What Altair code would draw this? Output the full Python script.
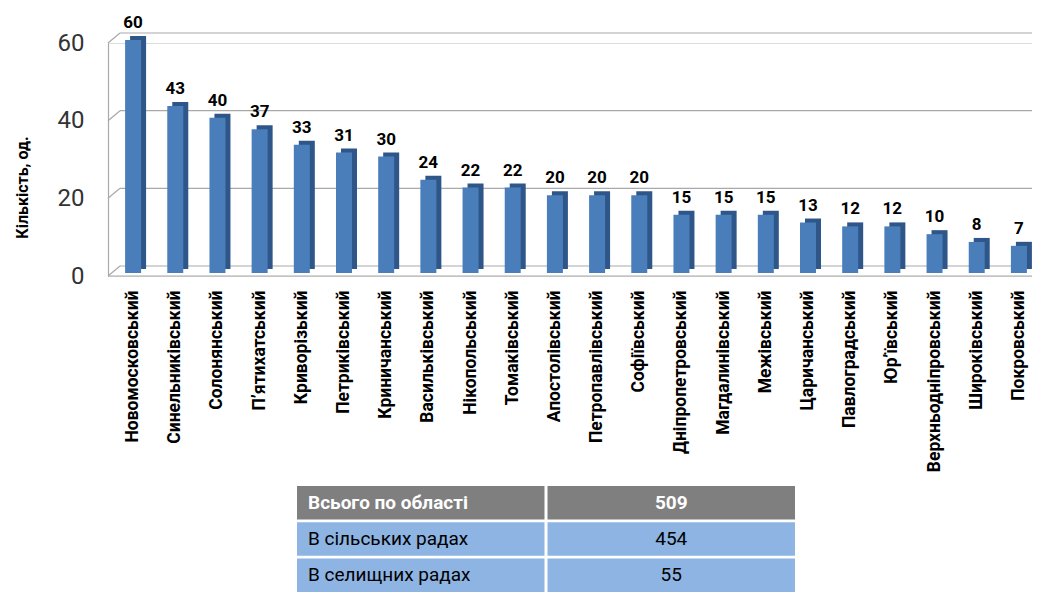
import altair as alt
import pandas as pd

districts = ["Новомосковський", "Синельниківський", "Солонянський", "П’ятихатський",
             "Криворізький", "Петриківський", "Криничанський", "Васильківський",
             "Нікопольський", "Томаківський", "Апостолівський", "Петропавлівський",
             "Софіївський", "Дніпропетровський", "Магдалинівський", "Межівський",
             "Царичанський", "Павлоградський", "Юр’ївський", "Верхньодніпровський",
             "Широківський", "Покровський"]
counts = [60, 43, 40, 37, 33, 31, 30, 24, 22, 22, 20, 20, 20, 15, 15, 15, 13, 12, 12, 10, 8, 7]
y_ticks = [0, 20, 40, 60]

table_labels = ["Всього по області", "В сільських радах", "В селищних радах"]
table_values = ["509", "454", "55"]

W, H = 924, 233
GRID = "#a9a9a9"
FONT = "Roboto"

df = pd.DataFrame({"district": districts, "count": counts})
grid_df = pd.DataFrame({"count": y_ticks})
floor_df = pd.DataFrame({"count": [0]})

X = alt.X("district:N", sort=districts,
          scale=alt.Scale(range=[4, 932], paddingInner=0, paddingOuter=0),
          axis=alt.Axis(title=None, labelAngle=-90, ticks=False, domain=False,
                        labelPadding=14, labelFont=FONT, labelFontSize=17.5,
                        labelFontWeight="bold", labelColor="black", labelLimit=300))


def Y():
    return alt.Y("count:Q", scale=alt.Scale(domain=[0, 60], nice=False, zero=True),
                 axis=alt.Axis(values=y_ticks, title="Кількість, од.", grid=False, ticks=False,
                               domainColor=GRID, domainWidth=1.2,
                               labelFont=FONT, labelFontSize=24, labelColor="#333333",
                               labelPadding=24,
                               titleFont=FONT, titleFontSize=16, titleFontWeight="bold",
                               titleColor="black", titleX=-86, titleY=144,
                               titleAngle=270, titleAlign="center", titleBaseline="middle"))


back_lines = alt.Chart(grid_df).mark_rule(color=GRID, strokeWidth=1.2, yOffset=-10).encode(
    x=alt.value(12), x2=alt.value(W), y=Y())
diagonals = alt.Chart(grid_df).mark_rule(color=GRID, strokeWidth=1.2, y2Offset=-10).encode(
    x=alt.value(0), x2=alt.value(12), y=Y(), y2="count:Q")
front_floor = alt.Chart(floor_df).mark_rule(color=GRID, strokeWidth=1.2).encode(
    x=alt.value(0), x2=alt.value(W), y=Y())

base = alt.Chart(df).encode(x=X, y=Y())
side = base.mark_bar(size=16, color="#2f5689", xOffset=5, yOffset=-7, y2Offset=-7)
front = base.mark_bar(size=16, color="#4a7ebb", yOffset=-3, y2Offset=-3)
labels = base.mark_text(fontSize=17, fontWeight="bold", font=FONT, color="black",
                        baseline="alphabetic", dy=-12, yOffset=-3).encode(text="count:Q")

main = alt.layer(back_lines, diagonals, front_floor, side, front, labels)

# ---- summary table ----
rows_df = pd.DataFrame({"row": table_labels * 2,
                        "col": ["a"] * 3 + ["b"] * 3})
label_df = pd.DataFrame({"row": table_labels, "col": ["a"] * 3, "txt": table_labels})
value_df = pd.DataFrame({"row": table_labels, "col": ["b"] * 3, "txt": table_values})

TX = alt.X("col:N", scale=alt.Scale(domain=["a", "b"], range=[189, 687],
                                    paddingInner=0.012, paddingOuter=0), axis=None)
TXl = alt.X("col:N", scale=alt.Scale(domain=["a", "b"], range=[189, 687],
                                     paddingInner=0.012, paddingOuter=0),
            axis=None, bandPosition=0)
TY = alt.Y("row:N", scale=alt.Scale(domain=table_labels, range=[443, 549],
                                    paddingInner=0.08, paddingOuter=0), axis=None)

cells = alt.Chart(rows_df).mark_rect().encode(
    x=TX, y=TY,
    color=alt.Color("row:N", scale=alt.Scale(domain=table_labels,
                                             range=["#7f7f7f", "#8db4e2", "#8db4e2"]),
                    legend=None))

hdr = alt.datum.row == table_labels[0]
lab_head = alt.Chart(label_df).transform_filter(hdr).mark_text(
    align="left", dx=11, fontSize=19, fontWeight="bold", font=FONT, color="white").encode(
    x=TXl, y=TY, text="txt:N")
lab_body = alt.Chart(label_df).transform_filter(~hdr).mark_text(
    align="left", dx=11, fontSize=19, font=FONT, color="black").encode(
    x=TXl, y=TY, text="txt:N")
val_head = alt.Chart(value_df).transform_filter(hdr).mark_text(
    fontSize=19, fontWeight="bold", font=FONT, color="white").encode(
    x=TX, y=TY, text="txt:N")
val_body = alt.Chart(value_df).transform_filter(~hdr).mark_text(
    fontSize=19, font=FONT, color="black").encode(
    x=TX, y=TY, text="txt:N")

table = alt.layer(cells, lab_head, lab_body, val_head, val_body)

chart = alt.layer(main, table).resolve_scale(
    x="independent", y="independent", color="independent"
).properties(
    width=W, height=H,
    padding={"left": 100, "top": 35, "right": 0, "bottom": 316},
    autosize=alt.AutoSizeParams(type="none"),
).configure_view(stroke=None).configure(font=FONT)

chart.save("out.html", embed_options={"renderer": "svg", "actions": False})
